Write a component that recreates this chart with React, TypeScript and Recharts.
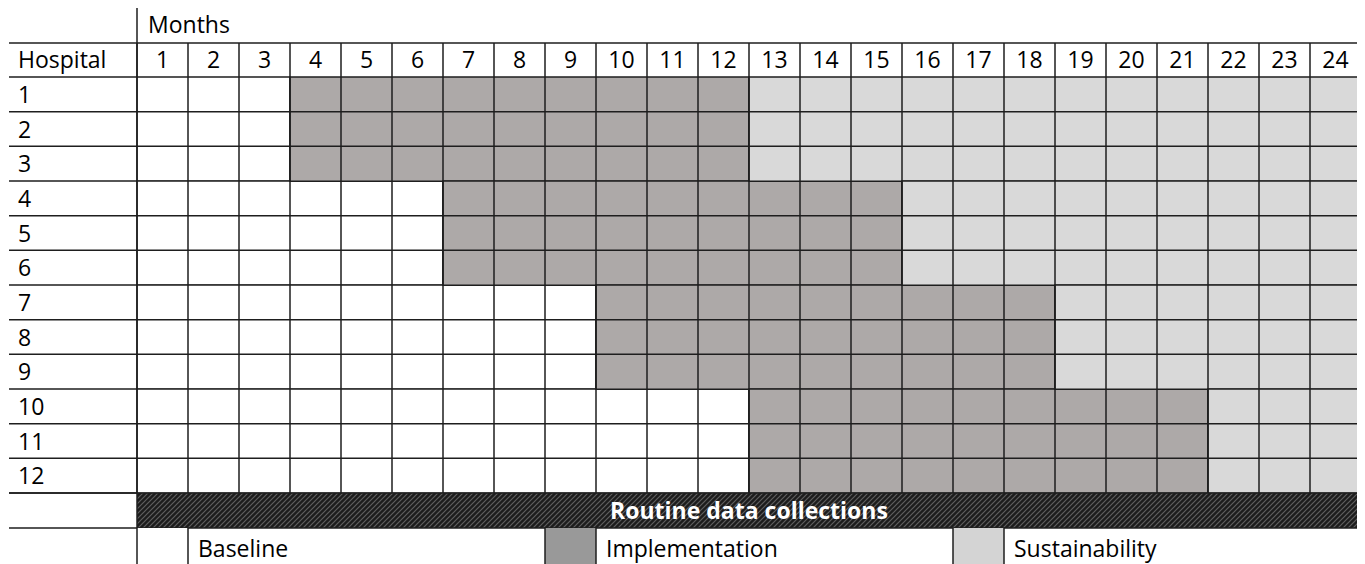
import { BarChart, Bar, XAxis, YAxis, ReferenceLine } from "recharts";

const hospitals = ["1", "2", "3", "4", "5", "6", "7", "8", "9", "10", "11", "12"];
const implementationStart = [4, 4, 4, 7, 7, 7, 10, 10, 10, 13, 13, 13];
const implementationEnd = [12, 12, 12, 15, 15, 15, 18, 18, 18, 21, 21, 21];
const months = [
  "1", "2", "3", "4", "5", "6", "7", "8", "9", "10", "11", "12",
  "13", "14", "15", "16", "17", "18", "19", "20", "21", "22", "23", "24",
];
const phases = ["Baseline", "Implementation", "Sustainability"];
const bandLabel = "Routine data collections";

const rows = hospitals.map((h, i) => ({
  hospital: h,
  baseline: implementationStart[i] - 1,
  implementation: implementationEnd[i] - implementationStart[i] + 1,
  sustainability: months.length - implementationEnd[i],
}));

const W = 1357;
const H = 556;
const LEFT = 129;
const RIGHT = 1353;
const TOP = 69;
const BOTTOM = 485;
const COL = (RIGHT - LEFT) / months.length;
const ROW = (BOTTOM - TOP) / hospitals.length;
const LINE = "#1e1e1e";
const FONT = "'Open Sans', sans-serif";
const FS = 23;

const MonthTick = (props: any) => {
  const { x, payload } = props;
  const i = payload.value;
  if (i >= months.length) return null;
  return (
    <text x={x + COL / 2} y={60} textAnchor="middle" fontSize={FS} fill="#000" fontFamily={FONT}>
      {months[i]}
    </text>
  );
};

const HospitalTick = (props: any) => {
  const { y, payload, index } = props;
  return (
    <g>
      {index === 0 && <line x1={1} x2={LEFT} y1={y - ROW / 2} y2={y - ROW / 2} stroke={LINE} strokeWidth={1.5} />}
      <line x1={1} x2={LEFT} y1={y + ROW / 2} y2={y + ROW / 2} stroke={LINE} strokeWidth={1.5} />
      <text x={10} y={y + 8.5} fontSize={FS} fill="#000" fontFamily={FONT}>
        {payload.value}
      </text>
    </g>
  );
};

export default function App() {
  const legendCells = [
    { x: LEFT, fill: "#ffffff" },
    { x: LEFT + 8 * COL, fill: "#999999" },
    { x: LEFT + 16 * COL, fill: "#d4d4d4" },
  ];
  return (
    <div style={{ position: "relative", width: W, height: H, fontFamily: FONT }}>
      <BarChart
        width={W}
        height={H}
        data={rows}
        layout="vertical"
        barCategoryGap={0}
        margin={{ top: 0, right: W - RIGHT, bottom: H - BOTTOM, left: 1 }}
      >
        <XAxis
          type="number"
          domain={[0, months.length]}
          ticks={months.map((_, i) => i).concat([months.length])}
          orientation="top"
          height={TOP}
          tickSize={34}
          axisLine={false}
          tickLine={{ stroke: LINE, strokeWidth: 1.5 }}
          tick={<MonthTick />}
          interval={0}
        />
        <YAxis
          type="category"
          dataKey="hospital"
          width={LEFT - 1}
          axisLine={false}
          tickLine={false}
          tick={<HospitalTick />}
          interval={0}
        />
        <Bar dataKey="baseline" stackId="a" fill="#ffffff" stroke={LINE} strokeWidth={1.5} isAnimationActive={false} />
        <Bar dataKey="implementation" stackId="a" fill="#ada9a8" stroke={LINE} strokeWidth={1.5} isAnimationActive={false} />
        <Bar dataKey="sustainability" stackId="a" fill="#d9d9d9" stroke={LINE} strokeWidth={1.5} isAnimationActive={false} />
        {months.slice(1).map((_, i) => (
          <ReferenceLine key={i} x={i + 1} stroke={LINE} strokeWidth={1.5} />
        ))}
      </BarChart>
      <svg width={W} height={H} style={{ position: "absolute", left: 0, top: 0, pointerEvents: "none" }}>
        <defs>
          <pattern id="hatch" width="5" height="5" patternUnits="userSpaceOnUse">
            <rect width="5" height="5" fill="#1c1c1c" />
            <path d="M-1,1 l2,-2 M0,5 l5,-5 M4,6 l2,-2" stroke="#5e5e5e" strokeWidth="1.2" />
          </pattern>
        </defs>
        <line x1={1} x2={RIGHT} y1={35} y2={35} stroke={LINE} strokeWidth={1.5} />
        <text x={140} y={25} fontSize={FS} fill="#000">Months</text>
        <text x={10} y={60} fontSize={FS} fill="#000">Hospital</text>
        <rect x={LEFT} y={BOTTOM} width={RIGHT - LEFT} height={35} fill="url(#hatch)" />
        <text x={(LEFT + RIGHT) / 2} y={BOTTOM + 26} textAnchor="middle" fontSize={FS} fontWeight="bold" fill="#fff">
          {bandLabel}
        </text>
        <line x1={1} x2={RIGHT} y1={BOTTOM} y2={BOTTOM} stroke={LINE} strokeWidth={1.5} />
        <line x1={1} x2={RIGHT} y1={BOTTOM + 35} y2={BOTTOM + 35} stroke={LINE} strokeWidth={1.5} />
        {legendCells.map((c, i) => (
          <g key={i}>
            <rect x={c.x} y={BOTTOM + 35} width={COL} height={H - BOTTOM - 35} fill={c.fill} />
            <line x1={c.x + COL} x2={c.x + COL} y1={BOTTOM + 35} y2={H} stroke={LINE} strokeWidth={1.5} />
            {i > 0 && <line x1={c.x} x2={c.x} y1={BOTTOM + 35} y2={H} stroke={LINE} strokeWidth={1.5} />}
            <text x={c.x + COL + 10} y={H - 7} fontSize={FS} fill="#000">{phases[i]}</text>
          </g>
        ))}
        <line x1={LEFT} x2={LEFT} y1={0} y2={H} stroke={LINE} strokeWidth={1.5} />
      </svg>
    </div>
  );
}
